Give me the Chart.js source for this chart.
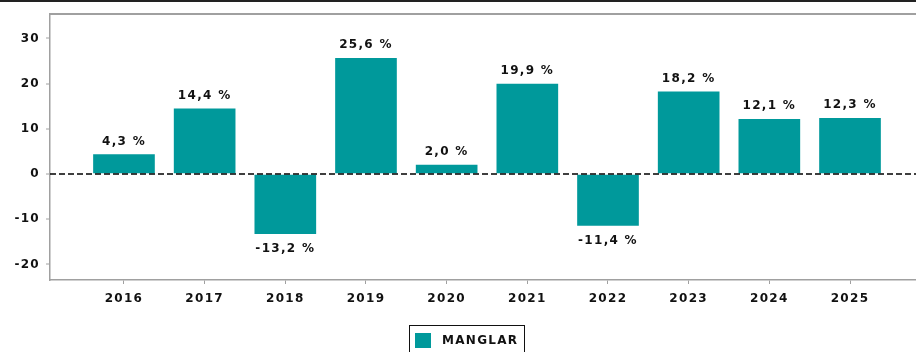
<!DOCTYPE html>
<html>
<head>
<meta charset="utf-8">
<script src="https://cdn.jsdelivr.net/npm/chart.js@4/dist/chart.umd.min.js"></script>
<style>
  html, body { margin: 0; padding: 0; background: #fff; }
  #wrap { width: 916px; height: 352px; position: relative; }
</style>
</head>
<body>
<div id="wrap"><canvas id="chart"></canvas></div>
<script>
// yearly change, percent
const years = [2016, 2017, 2018, 2019, 2020, 2021, 2022, 2023, 2024, 2025];
const values = [4.3, 14.4, -13.2, 25.6, 2.0, 19.9, -11.4, 18.2, 12.1, 12.3];
const yTicks = [-20, -10, 0, 10, 20, 30];
const seriesName = 'MANGLAR';

const Y_MIN = -23.45;
const Y_MAX = 35.4;
const TEAL = '#00999b';
const AXIS = '#a0a0a0';

Chart.defaults.font.family = 'DejaVu Sans';
Chart.defaults.font.size = 12;
Chart.defaults.font.weight = 'bold';
Chart.defaults.color = '#111';

const fmt = v => v.toFixed(1).replace('.', ',') + ' %';

const extras = {
  id: 'extras',
  beforeDraw(chart) {
    chart.ctx.letterSpacing = '1.3px';
  },
  afterDatasetsDraw(chart) {
    const ctx = chart.ctx;
    const a = chart.chartArea;
    const y0 = chart.scales.y.getPixelForValue(0);
    ctx.save();
    // dashed zero line over the bars
    ctx.strokeStyle = '#000';
    ctx.lineWidth = 1.5;
    ctx.setLineDash([6, 3]);
    ctx.beginPath();
    ctx.moveTo(a.left, y0);
    ctx.lineTo(a.right, y0);
    ctx.stroke();
    ctx.setLineDash([]);

    // value labels
    ctx.letterSpacing = '1.3px';
    ctx.font = 'bold 12px "DejaVu Sans"';
    ctx.fillStyle = '#111';
    ctx.textAlign = 'center';
    const meta = chart.getDatasetMeta(0);
    meta.data.forEach((bar, i) => {
      const v = chart.data.datasets[0].data[i].y;
      if (v >= 0) {
        ctx.textBaseline = 'alphabetic';
        ctx.fillText(fmt(v), bar.x, bar.y - 10);
      } else {
        ctx.textBaseline = 'top';
        ctx.fillText(fmt(v), bar.x, bar.y + 9);
      }
    });
    ctx.restore();
  },
  afterDraw(chart) {
    const ctx = chart.ctx;
    const a = chart.chartArea;
    const ds = chart.data.datasets[0];
    ctx.save();
    // frame line along the top of the plot
    ctx.fillStyle = AXIS;
    ctx.fillRect(a.left, Math.round(a.top) - 1, chart.width - a.left, 2);

    ctx.fillStyle = '#222';
    ctx.fillRect(0, 0, chart.width, 2);
    // legend box
    ctx.letterSpacing = '1.3px';
    ctx.strokeStyle = '#111';
    ctx.lineWidth = 1;
    ctx.strokeRect(409.5, 325.5, 115, 30);
    ctx.fillStyle = ds.backgroundColor;
    ctx.fillRect(415, 333, 16, 15);
    ctx.fillStyle = '#111';
    ctx.font = 'bold 12px "DejaVu Sans"';
    ctx.textAlign = 'left';
    ctx.textBaseline = 'middle';
    ctx.fillText(ds.label, 442, 341);
    ctx.restore();
  }
};

new Chart(document.getElementById('chart'), {
  type: 'bar',
  data: {
    datasets: [{
      label: seriesName,
      data: years.map((yr, i) => ({ x: yr, y: values[i] })),
      backgroundColor: TEAL,
      borderWidth: 0,
      barThickness: 61
    }]
  },
  options: {
    responsive: true,
    maintainAspectRatio: false,
    animation: false,
    layout: { padding: { top: 14, right: 0, left: 0, bottom: 0 } },
    plugins: {
      legend: { display: false },
      tooltip: { enabled: false }
    },
    scales: {
      x: {
        type: 'linear',
        offset: false,
        min: 2015.083,
        max: 2025.818,
        afterBuildTicks: s => { s.ticks = years.map(v => ({ value: v })); },
        afterFit: s => { s.height = 72; },
        ticks: { callback: v => String(v), padding: 8, maxRotation: 0 },
        grid: { offset: false, drawOnChartArea: false, drawTicks: true, tickLength: 4, color: AXIS, lineWidth: 1 },
        border: { color: AXIS, width: 1.5 }
      },
      y: {
        min: Y_MIN,
        max: Y_MAX,
        // an unlabeled tick at the top carries the upper frame line
        afterBuildTicks: s => { s.ticks = yTicks.concat([Y_MAX]).map(v => ({ value: v })); },
        afterFit: s => { s.width = 50; },
        ticks: { callback: v => (v === Y_MAX ? '' : String(v)), padding: 6 },
        grid: {
          drawOnChartArea: true,
          drawTicks: true,
          tickLength: 4,
          lineWidth: 2,
          color: c => (c.tick && c.tick.value === Y_MAX ? AXIS : 'rgba(0,0,0,0)'),
          tickColor: c => (c.tick && c.tick.value === Y_MAX ? 'rgba(0,0,0,0)' : AXIS),
          tickWidth: 1
        },
        border: { color: AXIS, width: 1.5 }
      }
    }
  },
  plugins: [extras]
});
</script>
</body>
</html>
